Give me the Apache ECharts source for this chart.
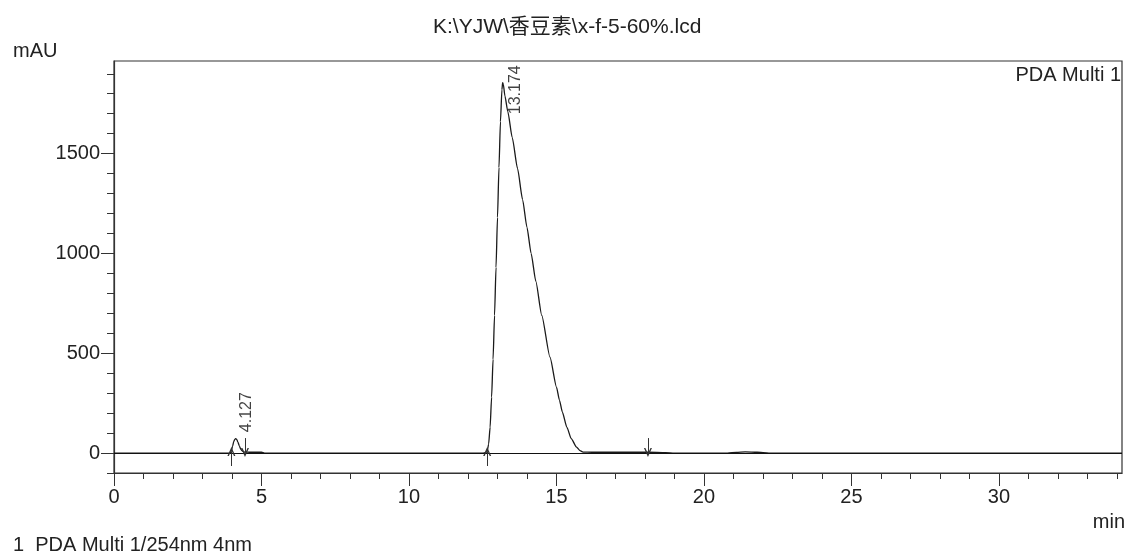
<!DOCTYPE html>
<html>
<head>
<meta charset="utf-8">
<title>chromatogram</title>
<script src="https://cdn.jsdelivr.net/npm/echarts@6/dist/echarts.min.js"></script>
<style>
  html, body { margin: 0; padding: 0; background: #fff; }
  #chart { width: 1126px; height: 554px; }
</style>
</head>
<body>
<div id="chart"></div>
<script>
// retention time (min) and absorbance (mAU)
var times = [0, 3.9, 3.95, 3.98, 4.02, 4.06, 4.10, 4.127, 4.16, 4.20, 4.25, 4.30, 4.36, 4.42, 4.6, 5.0, 5.1,
  12.5, 12.6, 12.65, 12.70, 12.75, 12.80, 12.85, 12.90, 12.95, 13.00, 13.05, 13.10, 13.15, 13.174, 13.20,
  13.25, 13.35, 13.50, 13.68, 13.85, 14.00, 14.14, 14.30, 14.50, 14.78, 15.00, 15.10, 15.20, 15.35, 15.50,
  15.68, 15.80, 15.90, 16.2, 17.0, 18.1, 18.7, 19.0, 20.8, 21.1, 21.4, 21.8, 22.2, 34.17]
var absorbance = [0, 0, 3, 12, 35, 58, 70, 72, 68, 55, 35, 18, 9, 5, 4, 4, 0,
  0, 2, 8, 45, 130, 280, 470, 690, 930, 1180, 1430, 1660, 1820, 1855, 1845,
  1790, 1710, 1580, 1425, 1270, 1130, 1000, 860, 690, 480, 330, 265, 205, 130, 72,
  30, 12, 5, 4, 4, 4, 2, 0, 0, 3, 6, 4, 0, 0]

// peak labels
var peakTimes = [4.127, 13.174]
var peakHeights = [72, 1855]
var peakNames = ['4.127', '13.174']

// integration start / end marks
var startMarks = [3.98, 12.65]
var endMarks = [4.44, 18.1]

// ticks
var xMajorTicks = [0, 5, 10, 15, 20, 25, 30]
var xMinorTicks = [1, 2, 3, 4, 6, 7, 8, 9, 11, 12, 13, 14, 16, 17, 18, 19, 21, 22, 23, 24, 26, 27, 28, 29, 31, 32, 33, 34]
var yMajorTicks = [0, 500, 1000, 1500]
var yMinorTicks = [-100, 100, 200, 300, 400, 600, 700, 800, 900, 1100, 1200, 1300, 1400, 1600, 1700, 1800, 1900]

var FONT = "'Liberation Sans', Arial, 'Noto Sans CJK SC', sans-serif"
var INK = '#222'

var chart = echarts.init(document.getElementById('chart'))

var tracePoints = times.map(function (t, i) { return [t, absorbance[i]] })
var labelPoints = peakTimes.map(function (t, i) { return [t, peakHeights[i]] })
// offsets of the rotated peak labels, in pixels
var labelOffsets = [[11, -6], [13, 32]]

// open arrow head (chevron pointing up)
var arrowPath = 'path://M0,9 L5,0 L10,9 L8.2,9 L5,3.4 L1.8,9 Z'
var markLines = [{ yAxis: 0, symbol: 'none', lineStyle: { color: '#111', width: 1, type: 'solid' } }]
startMarks.forEach(function (t) {
  markLines.push([{ coord: [t, -65], symbol: 'none' }, { coord: [t, 8], symbol: arrowPath, symbolSize: [8, 9] }])
})
endMarks.forEach(function (t) {
  markLines.push([{ coord: [t, 75], symbol: 'none' }, { coord: [t, 3], symbol: arrowPath, symbolSize: [8, 9] }])
})

function textTitle(text, pos, size) {
  return Object.assign({
    text: text,
    padding: 0,
    textStyle: { fontFamily: FONT, fontSize: size || 20, fontWeight: 'normal', color: INK, lineHeight: 24 }
  }, pos)
}

function plain(v) { return String(v) }

chart.setOption({
  animation: false,
  backgroundColor: '#fff',
  title: [
    textTitle('K:\\YJW\\香豆素\\x-f-5-60%.lcd', { left: 433, top: 15 }, 21),
    textTitle('mAU', { left: 13, top: 39 }),
    textTitle('PDA Multi 1', { right: 5, top: 63 }),
    textTitle('min', { right: 1, top: 510 }),
    textTitle('1  PDA Multi 1/254nm 4nm', { left: 13, top: 533 })
  ],
  grid: {
    left: 114, right: 4, top: 61, bottom: 81,
    show: true, borderColor: '#333', borderWidth: 1.2
  },
  xAxis: [{
    type: 'value', min: 0, max: 34.17,
    axisLine: { show: true, onZero: false, lineStyle: { color: '#333', width: 1.2 } },
    axisTick: { show: true, customValues: xMajorTicks, length: 13, lineStyle: { color: '#333' } },
    axisLabel: { customValues: xMajorTicks, formatter: plain, margin: 14, fontSize: 20, fontFamily: FONT, color: INK },
    splitLine: { show: false }
  }, {
    type: 'value', min: 0, max: 34.17, position: 'bottom', offset: 0,
    axisLine: { show: false, onZero: false },
    axisTick: { show: true, customValues: xMinorTicks, length: 6, lineStyle: { color: '#333' } },
    axisLabel: { show: false },
    splitLine: { show: false }
  }],
  yAxis: [{
    type: 'value', min: -100, max: 1964,
    axisLine: { show: true, onZero: false, lineStyle: { color: '#333', width: 1.2 } },
    axisTick: { show: true, customValues: yMajorTicks, length: 13, lineStyle: { color: '#333' } },
    axisLabel: { customValues: yMajorTicks, formatter: plain, margin: 14, fontSize: 20, fontFamily: FONT, color: INK },
    splitLine: { show: false }
  }, {
    type: 'value', min: -100, max: 1964, position: 'left', offset: 0,
    axisLine: { show: false, onZero: false },
    axisTick: { show: true, customValues: yMinorTicks, length: 7, lineStyle: { color: '#333' } },
    axisLabel: { show: false },
    splitLine: { show: false }
  }],
  series: [{
    name: 'PDA Multi 1',
    type: 'line',
    data: tracePoints,
    showSymbol: false,
    smooth: 0.2,
    smoothMonotone: 'x',
    lineStyle: { color: '#1a1a1a', width: 1.3 },
    markLine: {
      silent: true,
      symbol: 'none',
      label: { show: false },
      lineStyle: { color: '#333', width: 1, type: 'solid' },
      data: markLines
    }
  }, {
    // rotated retention time labels
    type: 'scatter',
    symbolSize: 1,
    itemStyle: { color: 'rgba(0,0,0,0)' },
    data: labelPoints.map(function (p, i) {
      return {
        value: p,
        label: {
          show: true,
          formatter: peakNames[i],
          rotate: 90,
          position: labelOffsets[i],
          align: 'left',
          verticalAlign: 'middle',
          fontSize: 16,
          fontFamily: FONT,
          color: '#111'
        }
      }
    })
  }]
})
</script>
</body>
</html>
